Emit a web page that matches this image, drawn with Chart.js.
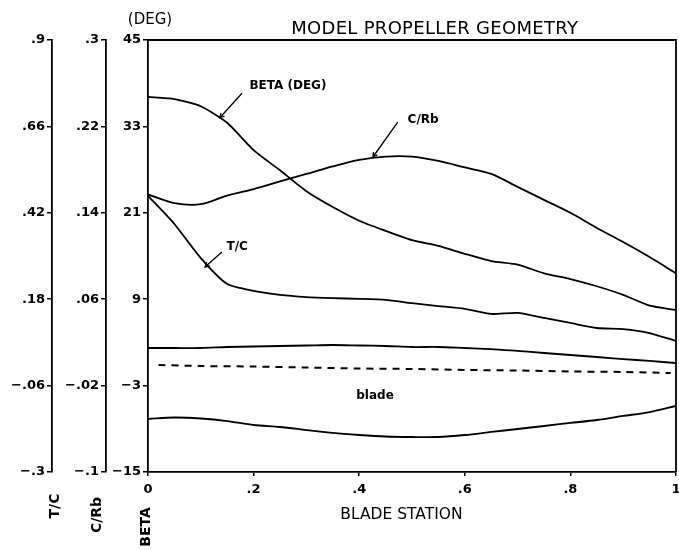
<!DOCTYPE html>
<html>
<head>
<meta charset="utf-8">
<title>Model Propeller Geometry</title>
<script src="https://cdn.jsdelivr.net/npm/chart.js@4.4.1/dist/chart.umd.min.js"></script>
<style>
  html, body { margin: 0; padding: 0; background: #fff; }
  #wrap { width: 679px; height: 550px; }
</style>
</head>
<body>
<div id="wrap"><canvas id="propChart" width="679" height="550"></canvas></div>
<script>
// blade stations (r/R) and the values
const stations = [0, .05, .1, .15, .2, .25, .3, .35, .4, .45, .5, .55, .6, .65, .7, .75, .8, .85, .9, .95, 1];
const betaDeg = [37.1, 36.8, 35.8, 33.5, 29.7, 26.9, 24.0, 21.8, 19.9, 18.5, 17.2, 16.4, 15.3, 14.3, 13.8, 12.6, 11.8, 10.8, 9.6, 8.1, 7.5];
const chordRb = [0.157, 0.149, 0.148, 0.156, 0.162, 0.169, 0.176, 0.183, 0.189, 0.192, 0.192, 0.188, 0.182, 0.176, 0.164, 0.152, 0.140, 0.126, 0.113, 0.099, 0.084];
const thickC = [0.467, 0.389, 0.294, 0.222, 0.203, 0.192, 0.186, 0.183, 0.181, 0.178, 0.169, 0.161, 0.153, 0.139, 0.142, 0.128, 0.114, 0.100, 0.097, 0.086, 0.064];

// blade outline sketch (drawn on the BETA scale)
const bladeUpper = [2.22, 2.22, 2.22, 2.36, 2.43, 2.5, 2.57, 2.64, 2.57, 2.5, 2.36, 2.36, 2.22, 2.08, 1.81, 1.53, 1.25, 0.97, 0.69, 0.42, 0.14];
const bladeLower = [-7.64, -7.43, -7.57, -7.92, -8.47, -8.75, -9.17, -9.58, -9.86, -10.07, -10.14, -10.14, -9.86, -9.44, -9.03, -8.61, -8.19, -7.78, -7.22, -6.67, -5.83];
const midStations = [0.02, 0.1, 0.2, 0.3, 0.4, 0.5, 0.6, 0.7, 0.8, 0.9, 0.99];
const bladeMid = [-0.14, -0.28, -0.35, -0.49, -0.63, -0.69, -0.83, -0.90, -1.04, -1.11, -1.25];

// tick values and labels
const xTicks = [0, 0.2, 0.4, 0.6, 0.8, 1];
const xLabels = ['0', '.2', '.4', '.6', '.8', '1'];
const betaTicks = [-15, -3, 9, 21, 33, 45];
const betaLabels = ['\u221215', '\u22123', '9', '21', '33', '45'];
const crbTicks = [-0.1, -0.02, 0.06, 0.14, 0.22, 0.3];
const crbLabels = ['\u2212.1', '\u2212.02', '.06', '.14', '.22', '.3'];
const tcTicks = [-0.3, -0.06, 0.18, 0.42, 0.66, 0.9];
const tcLabels = ['\u2212.3', '\u2212.06', '.18', '.42', '.66', '.9'];

const FONT = 'DejaVu Sans';
Chart.defaults.font.family = FONT;
Chart.defaults.color = '#000';

function pts(xs, ys) {
    return xs.map((x, i) => ({ x: x, y: ys[i] }));
}

function lineSet(label, data, axis, extra) {
    return Object.assign({
        label: label,
        data: data,
        yAxisID: axis,
        borderColor: '#000',
        borderWidth: 1.8,
        pointRadius: 0,
        tension: 0.3,
        fill: false
    }, extra || {});
}

// y axis with fixed ticks and fixed box width
function yAxis(min, max, ticks, labels, width, weight) {
    return {
        type: 'linear',
        position: 'left',
        weight: weight,
        min: min,
        max: max,
        afterBuildTicks: s => { s.ticks = ticks.map(v => ({ value: v })); },
        afterFit: s => { s.width = width; },
        ticks: {
            callback: (v, i) => labels[i],
            font: { size: 13, weight: 'bold' },
            padding: 2,
            autoSkip: false
        },
        grid: { drawOnChartArea: false, tickLength: 5, color: '#000', lineWidth: 1.5 },
        border: { display: true, color: '#000', width: 1.8 }
    };
}

// labels, leader lines and frame
const notes = [
    { text: 'BETA (DEG)', at: [0.265, 38.6], from: [0.178, 37.6], to: [0.136, 34.2] },
    { text: 'C/Rb', at: [0.521, 33.9], from: [0.473, 33.6], to: [0.426, 28.75] },
    { text: 'T/C', at: [0.169, 16.25], from: [0.140, 15.56], to: [0.108, 13.47] },
    { text: 'blade', at: [0.43, -4.44] }
];
const axisNames = [
    { id: 'yTC', text: 'T/C', dx: 3, y: 506 },
    { id: 'yCRb', text: 'C/Rb', dx: -9, y: 515 },
    { id: 'yBeta', text: 'BETA', dx: -2, y: 527 }
];

const textPlugin = {
    id: 'propText',
    afterDraw(chart) {
        const { ctx, chartArea, scales } = chart;
        const xs = scales.x, yb = scales.yBeta;
        ctx.save();
        ctx.strokeStyle = '#000';
        ctx.fillStyle = '#000';

        // top and right frame
        ctx.lineWidth = 1.8;
        ctx.beginPath();
        ctx.moveTo(chartArea.left, chartArea.top);
        ctx.lineTo(chartArea.right, chartArea.top);
        ctx.lineTo(chartArea.right, chartArea.bottom);
        ctx.stroke();

        // title and (DEG)
        ctx.textAlign = 'center';
        ctx.textBaseline = 'middle';
        ctx.font = '18px ' + FONT;
        ctx.letterSpacing = '0.3px';
        ctx.fillText('MODEL PROPELLER GEOMETRY', xs.getPixelForValue(0.543), chartArea.top - 11);
        ctx.letterSpacing = '0px';
        ctx.font = '15px ' + FONT;
        ctx.fillText('(DEG)', yb.right + 2, chartArea.top - 20);

        // x axis title
        ctx.font = '15.5px ' + FONT;
        ctx.fillText('BLADE STATION', xs.getPixelForValue(0.48), 515);

        // curve labels with leaders
        ctx.font = 'bold 12px ' + FONT;
        ctx.lineWidth = 1.3;
        notes.forEach(n => {
            ctx.fillText(n.text, xs.getPixelForValue(n.at[0]), yb.getPixelForValue(n.at[1]));
            if (!n.from) return;
            const x1 = xs.getPixelForValue(n.from[0]), y1 = yb.getPixelForValue(n.from[1]);
            const x2 = xs.getPixelForValue(n.to[0]), y2 = yb.getPixelForValue(n.to[1]);
            ctx.beginPath();
            ctx.moveTo(x1, y1);
            ctx.lineTo(x2, y2);
            const a = Math.atan2(y2 - y1, x2 - x1);
            ctx.moveTo(x2 - 5 * Math.cos(a - 0.5), y2 - 5 * Math.sin(a - 0.5));
            ctx.lineTo(x2, y2);
            ctx.lineTo(x2 - 5 * Math.cos(a + 0.5), y2 - 5 * Math.sin(a + 0.5));
            ctx.stroke();
        });

        // rotated axis names under each y axis
        ctx.font = 'bold 14px ' + FONT;
        axisNames.forEach(n => {
            const s = scales[n.id];
            ctx.save();
            ctx.translate(s.right + n.dx, n.y);
            ctx.rotate(-Math.PI / 2);
            ctx.fillText(n.text, 0, 0);
            ctx.restore();
        });
        ctx.restore();
    }
};

new Chart(document.getElementById('propChart').getContext('2d'), {
    type: 'line',
    data: {
        datasets: [
            lineSet('BETA (DEG)', pts(stations, betaDeg), 'yBeta', { tension: 0.2 }),
            lineSet('C/Rb', pts(stations, chordRb), 'yCRb'),
            lineSet('T/C', pts(stations, thickC), 'yTC', { tension: 0.2 }),
            lineSet('blade upper', pts(stations, bladeUpper), 'yBeta'),
            lineSet('blade lower', pts(stations, bladeLower), 'yBeta'),
            lineSet('blade mid', pts(midStations, bladeMid), 'yBeta', { borderDash: [7, 6], borderWidth: 2 })
        ]
    },
    options: {
        responsive: false,
        animation: false,
        events: [],
        layout: { padding: { top: 40, right: 3, left: 0, bottom: 0 } },
        plugins: {
            legend: { display: false },
            tooltip: { enabled: false }
        },
        scales: {
            x: {
                type: 'linear',
                position: 'bottom',
                min: 0,
                max: 1,
                afterBuildTicks: s => { s.ticks = xTicks.map(v => ({ value: v })); },
                afterFit: s => { s.height = 78; s.paddingLeft = 0; s.paddingRight = 0; },
                ticks: {
                    callback: (v, i) => xLabels[i],
                    font: { size: 13, weight: 'bold' },
                    padding: 6,
                    maxRotation: 0,
                    autoSkip: false
                },
                grid: { drawOnChartArea: false, tickLength: 4, color: '#000', lineWidth: 1.5 },
                border: { display: true, color: '#000', width: 1.8 }
            },
            yBeta: yAxis(-15, 45, betaTicks, betaLabels, 42, 0),
            yCRb: yAxis(-0.1, 0.3, crbTicks, crbLabels, 54, 1),
            yTC: yAxis(-0.3, 0.9, tcTicks, tcLabels, 52, 2)
        }
    },
    plugins: [textPlugin]
});
</script>
</body>
</html>
